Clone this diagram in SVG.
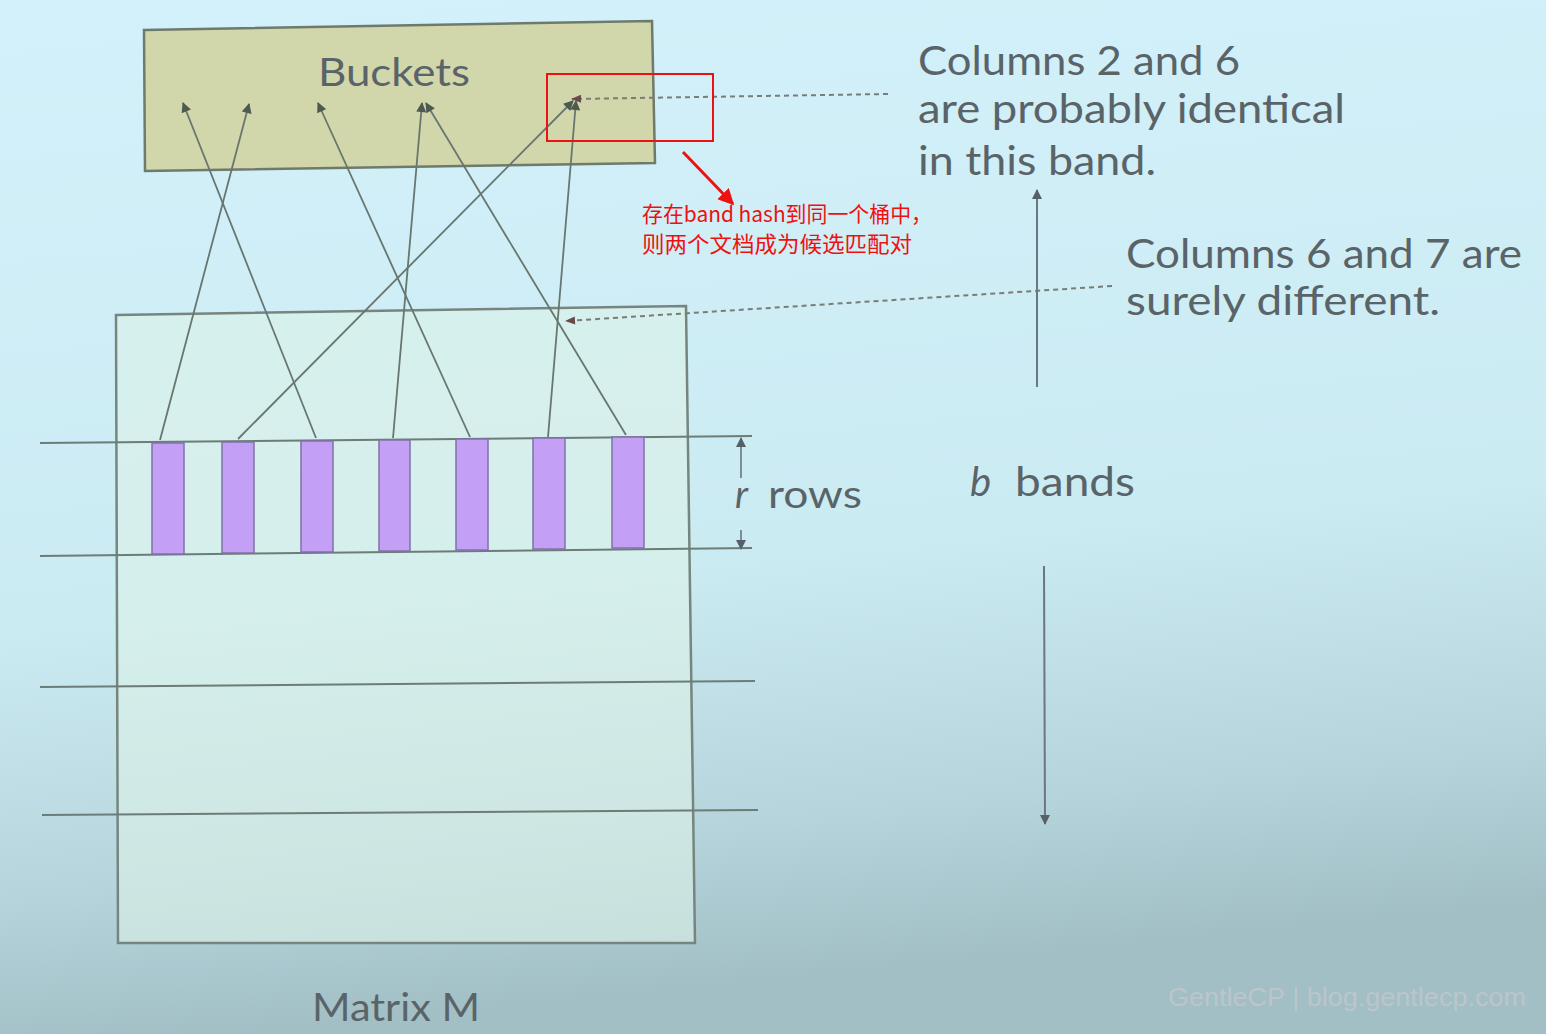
<svg xmlns="http://www.w3.org/2000/svg" width="1546" height="1034" viewBox="0 0 1546 1034">
<defs>
<linearGradient id="bg" x1="0" y1="0" x2="0.15" y2="1">
<stop offset="0" stop-color="#d3f1fa"/>
<stop offset="0.6" stop-color="#cbebf3"/>
<stop offset="0.85" stop-color="#b6d4db"/>
<stop offset="1" stop-color="#a2bfc6"/>
</linearGradient>
<marker id="ah" viewBox="0 0 10 10" refX="9" refY="5" markerWidth="11" markerHeight="10" orient="auto" markerUnits="userSpaceOnUse">
<path d="M0,0 L10,5 L0,10 z" fill="#4e5a50"/>
</marker>
<marker id="ahs" viewBox="0 0 10 10" refX="9" refY="5" markerWidth="10" markerHeight="10" orient="auto" markerUnits="userSpaceOnUse">
<path d="M0,0 L10,5 L0,10 z" fill="#556068"/>
</marker>
<marker id="ahd" viewBox="0 0 10 10" refX="9" refY="5" markerWidth="12" markerHeight="10" orient="auto" markerUnits="userSpaceOnUse">
<path d="M0,1 L10,5 L0,9 z" fill="#6a4a48"/>
</marker>
<marker id="ahr" viewBox="0 0 10 10" refX="9" refY="5" markerWidth="16" markerHeight="16" orient="auto" markerUnits="userSpaceOnUse">
<path d="M0,0 L10,5 L0,10 z" fill="#ee1111"/>
</marker>
<style>
.slide{font-family:Lato,"Open Sans",sans-serif;fill:#5a6468;}
.conn{stroke:#687670;stroke-width:1.8;fill:none;marker-end:url(#ah);}
.band{stroke:#6c7c76;stroke-width:2;fill:none;}
.col{fill:#c3a0f6;stroke:#7f72a6;stroke-width:1.5;}
.dash{stroke:#7a7c7a;stroke-width:2;stroke-dasharray:5 4;fill:none;marker-end:url(#ahd);}
.vert{stroke:#6a7680;stroke-width:2;fill:none;marker-end:url(#ahs);}
.red{font-family:"Noto Sans CJK SC","Microsoft YaHei",sans-serif;fill:#f01010;font-size:21.5px;}
</style>
</defs>
<rect width="1546" height="1034" fill="url(#bg)"/>

<g id="buckets">
<polygon points="144,30 652,21 655,163 145,171" fill="#d1d6ab" stroke="#6e7a6c" stroke-width="2.5"/>
<text class="slide" x="318" y="86" font-size="38" textLength="152" lengthAdjust="spacingAndGlyphs">Buckets</text>
</g>

<g id="matrix">
<polygon points="116,315 686,306 695,943 118,943" fill="#dcf2e8" fill-opacity="0.6" stroke="#76867e" stroke-width="2.5"/>
<text class="slide" x="312" y="1021" font-size="38" textLength="168" lengthAdjust="spacingAndGlyphs">Matrix M</text>
</g>

<g id="bands">
<line class="band" x1="40" y1="443" x2="752" y2="436"/>
<line class="band" x1="40" y1="556" x2="752" y2="548"/>
<line class="band" x1="40" y1="687" x2="755" y2="681"/>
<line class="band" x1="42" y1="815" x2="758" y2="810"/>
</g>

<g id="columns">
<rect class="col" x="152" y="443" width="32" height="111"/>
<rect class="col" x="222" y="442" width="32" height="111"/>
<rect class="col" x="301" y="441" width="32" height="111"/>
<rect class="col" x="379" y="440" width="31" height="111"/>
<rect class="col" x="456" y="439" width="32" height="111"/>
<rect class="col" x="533" y="438" width="32" height="111"/>
<rect class="col" x="612" y="437" width="32" height="111"/>
</g>

<g id="connectors">
<line class="conn" x1="160" y1="440" x2="249" y2="104"/>
<line class="conn" x1="238" y1="439" x2="573" y2="101"/>
<line class="conn" x1="316" y1="438" x2="183" y2="103"/>
<line class="conn" x1="393" y1="438" x2="422" y2="103"/>
<line class="conn" x1="470" y1="437" x2="318" y2="103"/>
<line class="conn" x1="548" y1="437" x2="576" y2="101"/>
<line class="conn" x1="626" y1="435" x2="426" y2="103"/>
<path class="dash" d="M888,94 L572,99"/>
<path class="dash" d="M1112,286 L566,321"/>
<line class="vert" x1="1037" y1="387" x2="1037" y2="190"/>
<line class="vert" x1="1044" y1="566" x2="1045" y2="824"/>
<line class="vert" x1="741" y1="478" x2="741" y2="438" style="stroke-width:1.6"/>
<line class="vert" x1="741" y1="530" x2="741" y2="549" style="stroke-width:1.6"/>
<line x1="683" y1="152" x2="733" y2="204" stroke="#ee1111" stroke-width="3" marker-end="url(#ahr)"/>
</g>

<g id="highlight">
<rect x="547" y="74" width="166" height="67" fill="none" stroke="#ee1111" stroke-width="2"/>
</g>

<g id="labels">
<text class="slide" x="918" y="75" font-size="40" textLength="322" lengthAdjust="spacingAndGlyphs">Columns 2 and 6</text>
<text class="slide" x="918" y="123" font-size="40" textLength="427" lengthAdjust="spacingAndGlyphs">are probably identical</text>
<text class="slide" x="918" y="175" font-size="40" textLength="238" lengthAdjust="spacingAndGlyphs">in this band.</text>
<text class="slide" x="1126" y="268" font-size="40" textLength="396" lengthAdjust="spacingAndGlyphs">Columns 6 and 7 are</text>
<text class="slide" x="1126" y="315" font-size="40" textLength="314" lengthAdjust="spacingAndGlyphs">surely different.</text>
<text class="slide" x="735" y="508" font-size="38" font-style="italic">r</text>
<text class="slide" x="768" y="508" font-size="38" textLength="94" lengthAdjust="spacingAndGlyphs">rows</text>
<text class="slide" x="970" y="496" font-size="40" font-style="italic">b</text>
<text class="slide" x="1015" y="496" font-size="40" textLength="120" lengthAdjust="spacingAndGlyphs">bands</text>
<text class="red" x="642" y="222" textLength="290" lengthAdjust="spacingAndGlyphs">存在band hash到同一个桶中，</text>
<text class="red" x="642" y="252" textLength="270" lengthAdjust="spacingAndGlyphs">则两个文档成为候选匹配对</text>
<text x="1168" y="1006" font-family="Liberation Sans, Arial, sans-serif" font-size="26" fill="#bcc6ca" textLength="358" lengthAdjust="spacingAndGlyphs">GentleCP | blog.gentlecp.com</text>
</g>
</svg>
